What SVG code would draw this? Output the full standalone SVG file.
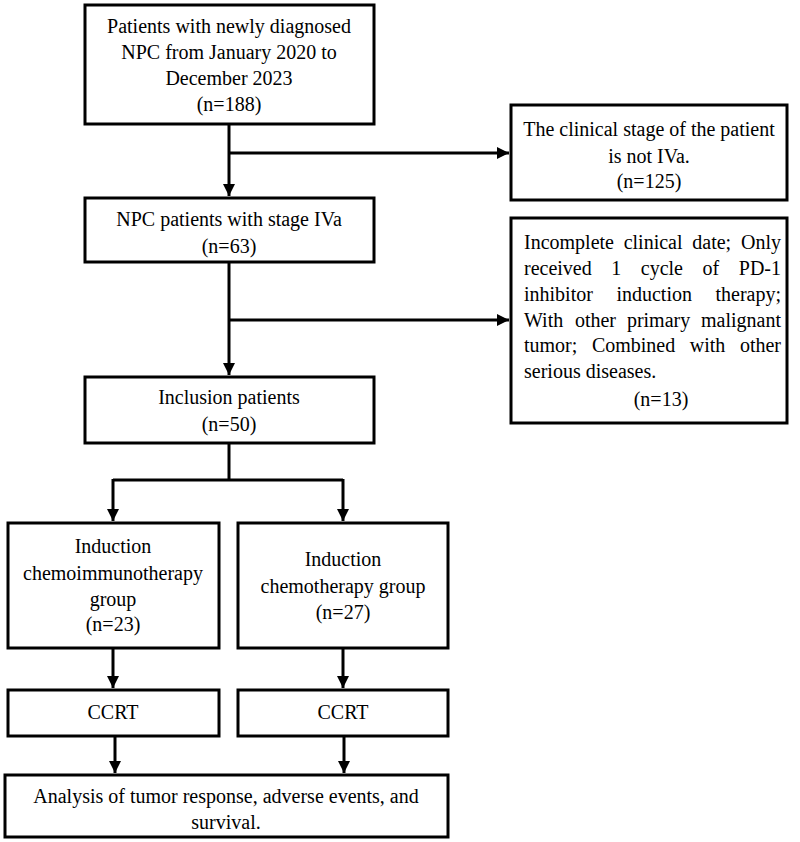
<svg xmlns="http://www.w3.org/2000/svg" width="800" height="842" viewBox="0 0 800 842">
<defs>
<style>
.box{fill:#fff;stroke:#000;stroke-width:3}
.t{font-family:"Liberation Serif","Times New Roman",serif;font-size:20px;fill:#000}
.c{text-anchor:middle}
.ln{fill:none;stroke:#000;stroke-width:3}
</style>
<marker id="ah" viewBox="0 0 10 10" refX="10" refY="5" markerWidth="4" markerHeight="4" markerUnits="strokeWidth" orient="auto">
<path d="M0,0 L10,5 L0,10 z" fill="#000"/>
</marker>
</defs>
<rect width="800" height="842" fill="#fff"/>
<g id="connectors">
<path class="ln" d="M229,124 V196" marker-end="url(#ah)"/>
<path class="ln" d="M229,153 H509" marker-end="url(#ah)"/>
<path class="ln" d="M229,262 V375" marker-end="url(#ah)"/>
<path class="ln" d="M229,320 H509" marker-end="url(#ah)"/>
<path class="ln" d="M229,443 V480"/>
<path class="ln" d="M113,480 H343"/>
<path class="ln" d="M113,479 V521" marker-end="url(#ah)"/>
<path class="ln" d="M343,479 V521" marker-end="url(#ah)"/>
<path class="ln" d="M113,648 V688" marker-end="url(#ah)"/>
<path class="ln" d="M343,648 V688" marker-end="url(#ah)"/>
<path class="ln" d="M115,736 V773" marker-end="url(#ah)"/>
<path class="ln" d="M344,736 V773" marker-end="url(#ah)"/>
</g>
<g id="n1">
<rect class="box" x="85" y="5" width="289" height="119"/>
<text class="t c" x="229" y="33">Patients with newly diagnosed</text>
<text class="t c" x="229" y="59">NPC from January 2020 to</text>
<text class="t c" x="229" y="85">December 2023</text>
<text class="t c" x="229" y="111">(n=188)</text>
</g>
<g id="n2">
<rect class="box" x="85" y="198" width="289" height="64"/>
<text class="t c" x="229" y="226">NPC patients with stage IVa</text>
<text class="t c" x="229" y="253">(n=63)</text>
</g>
<g id="n3">
<rect class="box" x="85" y="377" width="289" height="66"/>
<text class="t c" x="229" y="404">Inclusion patients</text>
<text class="t c" x="229" y="431">(n=50)</text>
</g>
<g id="r1">
<rect class="box" x="511" y="105" width="276" height="95"/>
<text class="t c" x="649" y="136">The clinical stage of the patient</text>
<text class="t c" x="649" y="163">is not IVa.</text>
<text class="t c" x="649" y="188">(n=125)</text>
</g>
<g id="r2">
<rect class="box" x="511" y="218" width="276" height="205"/>
<text class="t" y="249"><tspan x="524">Incomplete</tspan><tspan x="623.7">clinical</tspan><tspan x="692.3">date;</tspan><tspan x="781" text-anchor="end">Only</tspan></text>
<text class="t" y="275"><tspan x="524">received</tspan><tspan x="611.3">1</tspan><tspan x="640.8">cycle</tspan><tspan x="702.6">of</tspan><tspan x="781" text-anchor="end">PD-1</tspan></text>
<text class="t" y="301"><tspan x="524">inhibitor</tspan><tspan x="616.4">induction</tspan><tspan x="781" text-anchor="end">therapy;</tspan></text>
<text class="t" y="327"><tspan x="524">With</tspan><tspan x="574.9">other</tspan><tspan x="626.9">primary</tspan><tspan x="781" text-anchor="end">malignant</tspan></text>
<text class="t" y="352"><tspan x="524">tumor;</tspan><tspan x="591.9">Combined</tspan><tspan x="689.8">with</tspan><tspan x="781" text-anchor="end">other</tspan></text>
<text class="t" x="524" y="378">serious diseases.</text>
<text class="t c" x="661" y="406">(n=13)</text>
</g>
<g id="n4">
<rect class="box" x="8" y="523" width="211" height="125"/>
<text class="t c" x="113" y="553">Induction</text>
<text class="t c" x="113" y="580">chemoimmunotherapy</text>
<text class="t c" x="113" y="606">group</text>
<text class="t c" x="113" y="631">(n=23)</text>
</g>
<g id="n5">
<rect class="box" x="238" y="523" width="210" height="125"/>
<text class="t c" x="343" y="566">Induction</text>
<text class="t c" x="343" y="593">chemotherapy group</text>
<text class="t c" x="343" y="619">(n=27)</text>
</g>
<g id="n6">
<rect class="box" x="8" y="690" width="211" height="46"/>
<text class="t c" x="113" y="719">CCRT</text>
</g>
<g id="n7">
<rect class="box" x="238" y="690" width="210" height="46"/>
<text class="t c" x="343" y="719">CCRT</text>
</g>
<g id="n8">
<rect class="box" x="5" y="775" width="443" height="62"/>
<text class="t c" x="226" y="803">Analysis of tumor response, adverse events, and</text>
<text class="t c" x="226" y="829">survival.</text>
</g>
</svg>
